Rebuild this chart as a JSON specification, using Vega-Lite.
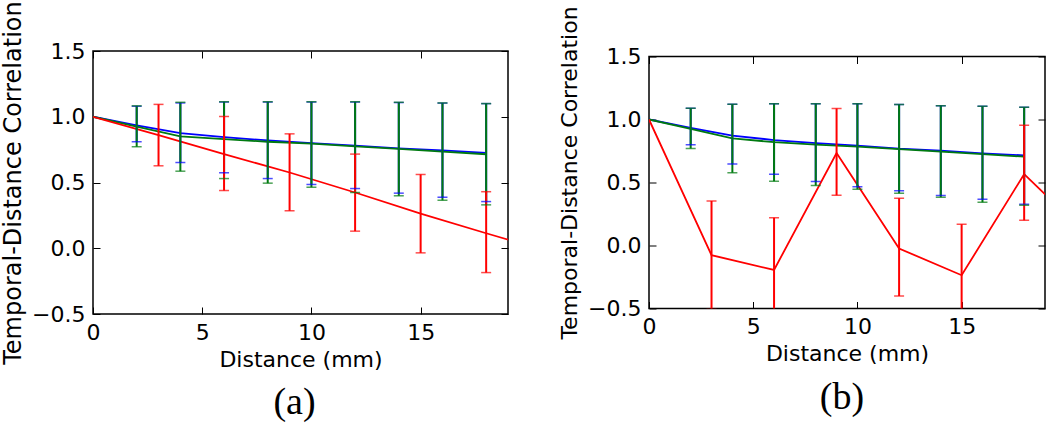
{
  "$schema": "https://vega.github.io/schema/vega-lite/v6.json",
  "background": "white",
  "padding": {"left": 0, "top": 0, "right": 0, "bottom": 0},
  "bounds": "flush",
  "center": true,
  "spacing": 141,
  "datasets": {
    "a": [
      {"series": "blue", "x": 0, "y": 1.0, "lo": null, "hi": null},
      {"series": "blue", "x": 2, "y": 0.935, "lo": 0.81, "hi": 1.08},
      {"series": "blue", "x": 4, "y": 0.875, "lo": 0.652, "hi": 1.105},
      {"series": "blue", "x": 6, "y": 0.845, "lo": 0.574, "hi": 1.112},
      {"series": "blue", "x": 8, "y": 0.82, "lo": 0.53, "hi": 1.112},
      {"series": "blue", "x": 10, "y": 0.8, "lo": 0.485, "hi": 1.112},
      {"series": "blue", "x": 12, "y": 0.78, "lo": 0.454, "hi": 1.112},
      {"series": "blue", "x": 14, "y": 0.76, "lo": 0.419, "hi": 1.108},
      {"series": "blue", "x": 16, "y": 0.745, "lo": 0.388, "hi": 1.104},
      {"series": "blue", "x": 18, "y": 0.725, "lo": 0.355, "hi": 1.1},
      {"series": "green", "x": 0, "y": 1.0, "lo": null, "hi": null},
      {"series": "green", "x": 2, "y": 0.925, "lo": 0.772, "hi": 1.083},
      {"series": "green", "x": 4, "y": 0.85, "lo": 0.586, "hi": 1.11},
      {"series": "green", "x": 6, "y": 0.83, "lo": 0.53, "hi": 1.114},
      {"series": "green", "x": 8, "y": 0.81, "lo": 0.495, "hi": 1.114},
      {"series": "green", "x": 10, "y": 0.795, "lo": 0.464, "hi": 1.114},
      {"series": "green", "x": 12, "y": 0.775, "lo": 0.424, "hi": 1.114},
      {"series": "green", "x": 14, "y": 0.755, "lo": 0.399, "hi": 1.11},
      {"series": "green", "x": 16, "y": 0.735, "lo": 0.365, "hi": 1.105},
      {"series": "green", "x": 18, "y": 0.715, "lo": 0.33, "hi": 1.1},
      {"series": "red", "x": 0, "y": 1.0, "lo": null, "hi": null},
      {"series": "red", "x": 3, "y": 0.86, "lo": 0.627, "hi": 1.094},
      {"series": "red", "x": 6, "y": 0.716, "lo": 0.439, "hi": 1.002},
      {"series": "red", "x": 9, "y": 0.576, "lo": 0.285, "hi": 0.87},
      {"series": "red", "x": 12, "y": 0.424, "lo": 0.13, "hi": 0.716},
      {"series": "red", "x": 15, "y": 0.264, "lo": -0.035, "hi": 0.561},
      {"series": "red", "x": 18, "y": 0.114, "lo": -0.185, "hi": 0.43},
      {"series": "red", "x": 21, "y": -0.03, "lo": null, "hi": null}
    ],
    "b": [
      {"series": "blue", "x": 0, "y": 1.0, "lo": null, "hi": null},
      {"series": "blue", "x": 2, "y": 0.933, "lo": 0.8, "hi": 1.09},
      {"series": "blue", "x": 4, "y": 0.872, "lo": 0.646, "hi": 1.122},
      {"series": "blue", "x": 6, "y": 0.837, "lo": 0.566, "hi": 1.125},
      {"series": "blue", "x": 8, "y": 0.813, "lo": 0.508, "hi": 1.125},
      {"series": "blue", "x": 10, "y": 0.793, "lo": 0.466, "hi": 1.125},
      {"series": "blue", "x": 12, "y": 0.769, "lo": 0.434, "hi": 1.12},
      {"series": "blue", "x": 14, "y": 0.753, "lo": 0.396, "hi": 1.109},
      {"series": "blue", "x": 16, "y": 0.731, "lo": 0.367, "hi": 1.106},
      {"series": "blue", "x": 18, "y": 0.715, "lo": 0.327, "hi": 1.098},
      {"series": "green", "x": 0, "y": 1.0, "lo": null, "hi": null},
      {"series": "green", "x": 2, "y": 0.925, "lo": 0.769, "hi": 1.09},
      {"series": "green", "x": 4, "y": 0.85, "lo": 0.577, "hi": 1.122},
      {"series": "green", "x": 6, "y": 0.82, "lo": 0.51, "hi": 1.125},
      {"series": "green", "x": 8, "y": 0.8, "lo": 0.476, "hi": 1.125},
      {"series": "green", "x": 10, "y": 0.785, "lo": 0.447, "hi": 1.125},
      {"series": "green", "x": 12, "y": 0.765, "lo": 0.415, "hi": 1.12},
      {"series": "green", "x": 14, "y": 0.745, "lo": 0.383, "hi": 1.109},
      {"series": "green", "x": 16, "y": 0.725, "lo": 0.343, "hi": 1.106},
      {"series": "green", "x": 18, "y": 0.705, "lo": 0.32, "hi": 1.098},
      {"series": "red", "x": 0, "y": 1.0, "lo": null, "hi": null},
      {"series": "red", "x": 3, "y": -0.077, "lo": -0.505, "hi": 0.354},
      {"series": "red", "x": 6, "y": -0.194, "lo": -0.609, "hi": 0.221},
      {"series": "red", "x": 9, "y": 0.734, "lo": 0.399, "hi": 1.088},
      {"series": "red", "x": 12, "y": -0.024, "lo": -0.401, "hi": 0.375},
      {"series": "red", "x": 15, "y": -0.236, "lo": -0.64, "hi": 0.168},
      {"series": "red", "x": 18, "y": 0.566, "lo": 0.2, "hi": 0.955},
      {"series": "red", "x": 21, "y": 0.09, "lo": null, "hi": null}
    ]
  },
  "hconcat": [
    {
      "width": 415,
      "height": 263,
      "data": {"name": "a"},
      "title": {"text": "(a)", "orient": "bottom", "dx": -6},
      "resolve": {"axis": {"x": "independent", "y": "independent"}},
      "layer": [
        {
          "mark": {"type": "line", "strokeWidth": 1.8, "clip": true},
          "encoding": {
            "x": {"field": "x", "type": "quantitative", "scale": {"domain": [0, 19], "nice": false, "zero": false},
                  "axis": {"orient": "bottom", "title": "Distance (mm)", "values": [0, 5, 10, 15]}},
            "y": {"field": "y", "type": "quantitative", "scale": {"domain": [-0.5, 1.5], "nice": false, "zero": false},
                  "axis": {"orient": "left", "title": "Temporal-Distance Correlation", "values": [-0.5, 0, 0.5, 1, 1.5], "format": ".1f", "titleFontSize": 24}},
            "color": {"field": "series", "type": "nominal", "scale": {"domain": ["blue", "green", "red"], "range": ["#0000ff", "#007a10", "#ff0000"]}, "legend": null}
          }
        },
        {
          "mark": {"type": "rule", "strokeWidth": 2, "clip": true},
          "encoding": {
            "x": {"field": "x", "type": "quantitative", "scale": {"domain": [0, 19], "nice": false, "zero": false},
                  "axis": {"orient": "top", "labels": false, "title": null, "values": [0, 5, 10, 15]}},
            "y": {"field": "lo", "type": "quantitative", "scale": {"domain": [-0.5, 1.5], "nice": false, "zero": false},
                  "axis": {"orient": "right", "labels": false, "title": null, "values": [-0.5, 0, 0.5, 1, 1.5]}},
            "y2": {"field": "hi"},
            "color": {"field": "series", "type": "nominal", "legend": null}
          }
        },
        {
          "mark": {"type": "tick", "orient": "horizontal", "size": 10, "thickness": 1.5, "clip": true},
          "encoding": {
            "x": {"field": "x", "type": "quantitative", "scale": {"domain": [0, 19], "nice": false, "zero": false}, "axis": null},
            "y": {"field": "lo", "type": "quantitative", "scale": {"domain": [-0.5, 1.5], "nice": false, "zero": false}, "axis": null},
            "color": {"field": "series", "type": "nominal", "legend": null}
          }
        },
        {
          "mark": {"type": "tick", "orient": "horizontal", "size": 10, "thickness": 1.5, "clip": true},
          "encoding": {
            "x": {"field": "x", "type": "quantitative", "scale": {"domain": [0, 19], "nice": false, "zero": false}, "axis": null},
            "y": {"field": "hi", "type": "quantitative", "scale": {"domain": [-0.5, 1.5], "nice": false, "zero": false}, "axis": null},
            "color": {"field": "series", "type": "nominal", "legend": null}
          }
        }
      ]
    },
    {
      "width": 396,
      "height": 252,
      "data": {"name": "b"},
      "title": {"text": "(b)", "orient": "bottom", "dx": -5},
      "resolve": {"axis": {"x": "independent", "y": "independent"}},
      "layer": [
        {
          "mark": {"type": "line", "strokeWidth": 1.8, "clip": true},
          "encoding": {
            "x": {"field": "x", "type": "quantitative", "scale": {"domain": [0, 19], "nice": false, "zero": false},
                  "axis": {"orient": "bottom", "title": "Distance (mm)", "values": [0, 5, 10, 15]}},
            "y": {"field": "y", "type": "quantitative", "scale": {"domain": [-0.5, 1.5], "nice": false, "zero": false},
                  "axis": {"orient": "left", "title": "Temporal-Distance Correlation", "values": [-0.5, 0, 0.5, 1, 1.5], "format": ".1f", "titleFontSize": 22, "titleY": 116}},
            "color": {"field": "series", "type": "nominal", "scale": {"domain": ["blue", "green", "red"], "range": ["#0000ff", "#007a10", "#ff0000"]}, "legend": null}
          }
        },
        {
          "mark": {"type": "rule", "strokeWidth": 2, "clip": true},
          "encoding": {
            "x": {"field": "x", "type": "quantitative", "scale": {"domain": [0, 19], "nice": false, "zero": false},
                  "axis": {"orient": "top", "labels": false, "title": null, "values": [0, 5, 10, 15]}},
            "y": {"field": "lo", "type": "quantitative", "scale": {"domain": [-0.5, 1.5], "nice": false, "zero": false},
                  "axis": {"orient": "right", "labels": false, "title": null, "values": [-0.5, 0, 0.5, 1, 1.5]}},
            "y2": {"field": "hi"},
            "color": {"field": "series", "type": "nominal", "legend": null}
          }
        },
        {
          "mark": {"type": "tick", "orient": "horizontal", "size": 10, "thickness": 1.5, "clip": true},
          "encoding": {
            "x": {"field": "x", "type": "quantitative", "scale": {"domain": [0, 19], "nice": false, "zero": false}, "axis": null},
            "y": {"field": "lo", "type": "quantitative", "scale": {"domain": [-0.5, 1.5], "nice": false, "zero": false}, "axis": null},
            "color": {"field": "series", "type": "nominal", "legend": null}
          }
        },
        {
          "mark": {"type": "tick", "orient": "horizontal", "size": 10, "thickness": 1.5, "clip": true},
          "encoding": {
            "x": {"field": "x", "type": "quantitative", "scale": {"domain": [0, 19], "nice": false, "zero": false}, "axis": null},
            "y": {"field": "hi", "type": "quantitative", "scale": {"domain": [-0.5, 1.5], "nice": false, "zero": false}, "axis": null},
            "color": {"field": "series", "type": "nominal", "legend": null}
          }
        }
      ]
    }
  ],
  "config": {
    "view": {"stroke": "black", "strokeWidth": 1.5},
    "axis": {
      "grid": false,
      "domain": false,
      "ticks": true,
      "tickColor": "black",
      "tickSize": -7,
      "tickWidth": 1,
      "labelColor": "black",
      "labelFont": "DejaVu Sans",
      "labelFontSize": 22,
      "labelPadding": 15,
      "labelFlush": false,
      "labelOverlap": false,
      "labelBound": false,
      "titleFont": "DejaVu Sans",
      "titleFontSize": 22,
      "titleFontWeight": "normal",
      "titleColor": "black",
      "titlePadding": 6
    },
    "title": {"font": "Liberation Serif", "fontSize": 38, "fontWeight": "normal", "color": "black", "offset": 14}
  }
}
